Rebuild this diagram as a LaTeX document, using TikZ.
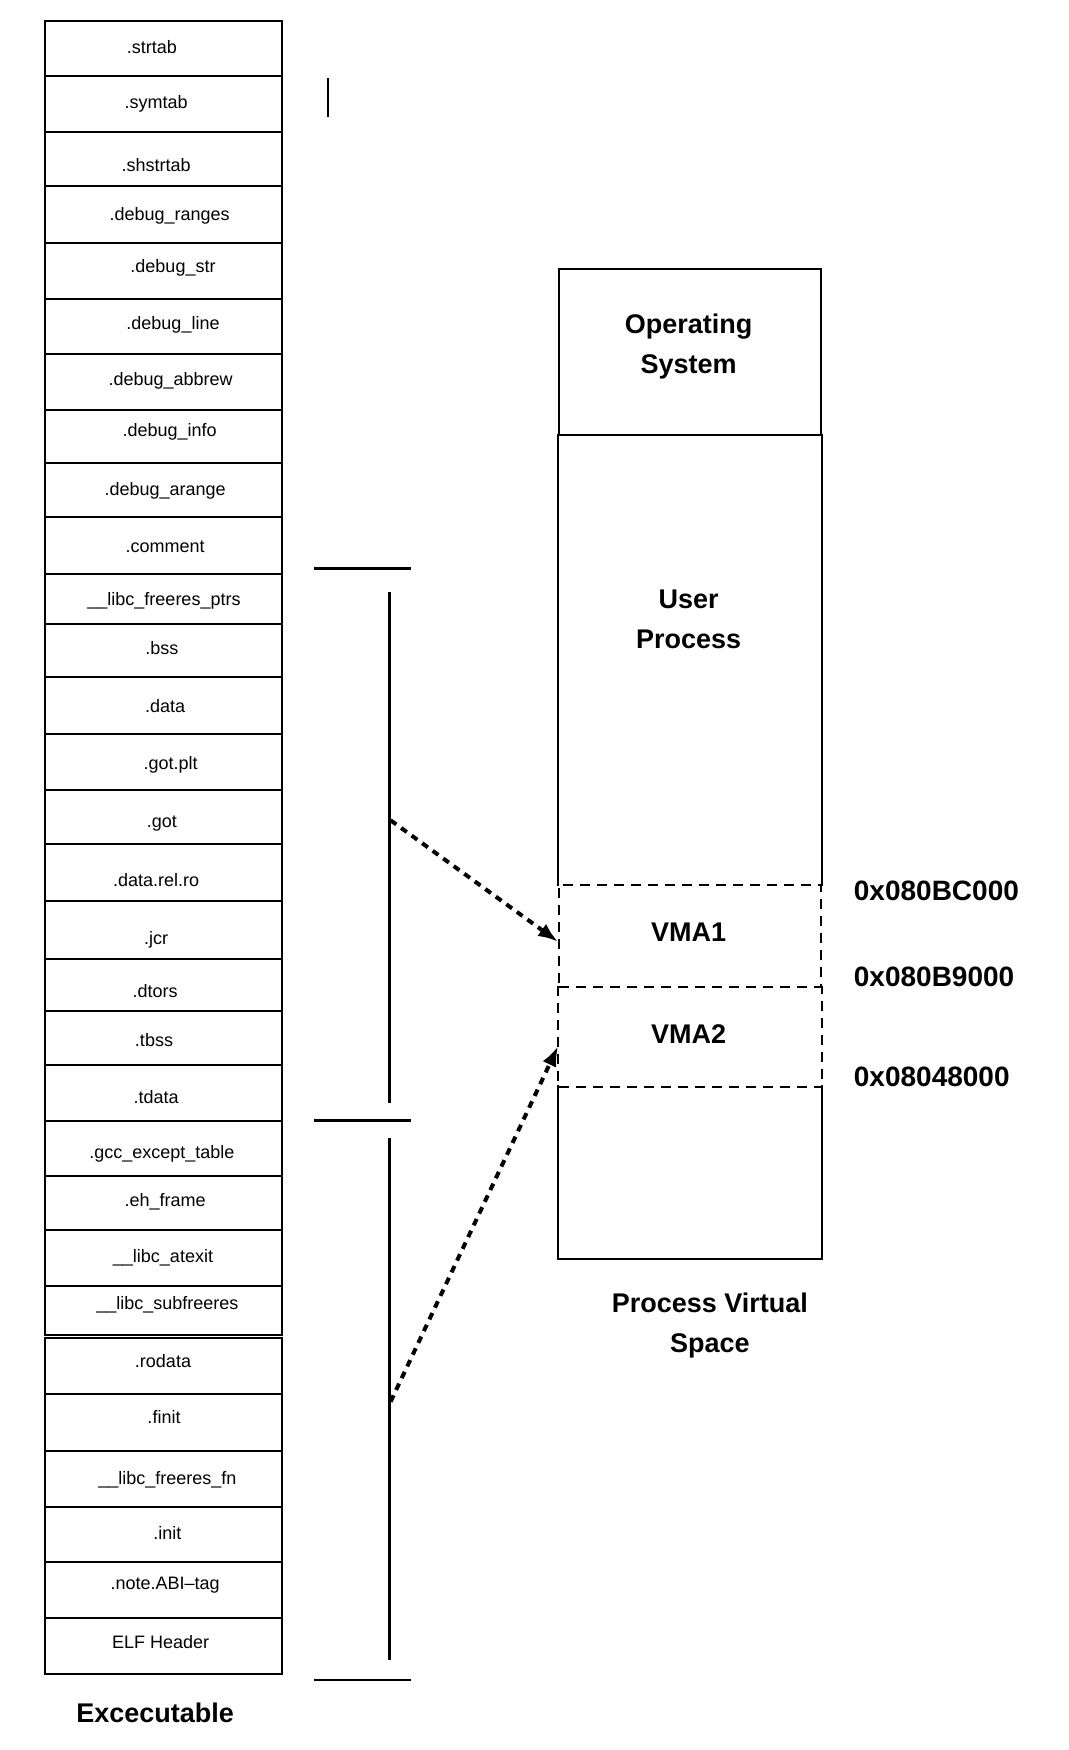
\documentclass[tikz,border=0pt]{standalone}
\usepackage{fontspec}
\setmainfont{Liberation Sans}
\usetikzlibrary{positioning,arrows.meta}
\tikzset{
  secbox/.style={draw,line width=2pt},
  seclabel/.style={font=\fontsize{18}{20}\selectfont,anchor=base,inner sep=0pt},
  biglabel/.style={font=\bfseries\fontsize{27}{40}\selectfont,align=center,inner sep=0pt},
  addr/.style={font=\bfseries\fontsize{28}{30}\selectfont,anchor=west,inner sep=0pt},
  region/.style={draw,line width=2pt,minimum width=262.3pt,inner sep=0pt},
  vmaregion/.style={region,dash pattern=on 10pt off 7pt},
  bracket/.style={line width=2.2pt},
  maparrow/.style={-{Latex[length=20pt,width=15pt]},line width=4pt,dash pattern=on 7pt off 6pt},
}
\begin{document}
\begin{tikzpicture}[x=1pt,y=-1pt]
  \useasboundingbox (0,0) rectangle (1068,1750);
  \foreach \ya/\yb/\tx/\ty/\txt [count=\i] in {
      21.2/75.9/151.8/48/.strtab,
      75.9/131.7/156.2/102.7/.symtab,
      131.7/186.4/156.2/165.2/.shstrtab,
      186.4/243.3/169.6/214.3/.debug\_ranges,
      243.3/299.1/173/266.7/.debug\_str,
      299.1/353.8/173/323.6/.debug\_line,
      353.8/409.6/170.7/379.4/.debug\_abbrew,
      409.6/463.1/169.6/430.8/.debug\_info,
      463.1/516.7/165.2/489.9/.debug\_arange,
      516.7/573.6/165.2/546.8/.comment,
      573.6/623.8/164/599.3/\_\_libc\_freeres\_ptrs,
      623.8/677.4/161.8/648.4/.bss,
      677.4/734.3/165.2/706.4/.data,
      734.3/790.1/170.7/763.3/.got.plt,
      790.1/843.7/161.8/821.4/.got,
      843.7/900.6/156.2/880.5/.data.rel.ro,
      900.6/958.6/156.2/938.6/.jcr,
      958.6/1011.1/155.1/991/.dtors,
      1011.1/1064.7/154/1040.1/.tbss,
      1064.7/1120.5/156.2/1097/.tdata,
      1120.5/1176.3/161.8/1152.8/.gcc\_except\_table,
      1176.3/1229.8/165.2/1200.8/.eh\_frame,
      1229.8/1285.6/163/1256.6/\_\_libc\_atexit,
      1285.6/1334.7/167.4/1303.5/\_\_libc\_subfreeres,
      1338.1/1393.9/163/1361.5/.rodata,
      1393.9/1450.8/164/1417.3/.finit,
      1450.8/1506.6/167.4/1478.7/\_\_libc\_freeres\_fn,
      1506.6/1562.4/167.4/1533.4/.init,
      1562.4/1618.2/165.2/1583.6/.note.ABI–tag,
      1618.2/1674/160.7/1642.8/ELF Header} {
    \draw[secbox] (45,\ya) rectangle (282,\yb);
    \node[seclabel] (sec\i) at (\tx,\ty+6) {\txt};
  }
  \node[biglabel] (exe) at (155.1,1713) {Excecutable};

  \draw[bracket] (328,78) -- (328,117);
  \draw[bracket] (313.6,568.5) -- (410.7,568.5);
  \draw[bracket] (313.6,1120.5) -- (410.7,1120.5);
  \draw[bracket] (313.6,1680) -- (410.7,1680);
  \draw[bracket] (389.5,591.5) -- (389.5,1102.6);
  \draw[bracket] (389.5,1138.3) -- (389.5,1660);
  \coordinate (dataTap) at (390.6,820.3);
  \coordinate (codeTap) at (390.6,1401.7);

  \node[region,minimum height=166.2pt] (os) at (690.2,352.1) {};
  \node[region,draw=none,minimum height=449.8pt] (user) at (690.2,660.1) {};
  \draw[bracket] (user.south west) -- (user.north west) (user.north east) -- (user.south east);
  \node[vmaregion,minimum height=101.5pt] (vma1) at (690.2,935.75) {};
  \node[region,draw=none,minimum height=99.4pt] (vma2) at (690.2,1036.2) {};
  \draw[line width=2pt,dash pattern=on 10pt off 7pt] (vma2.north west) -- (vma2.south west) -- (vma2.south east) -- (vma2.north east);
  \node[region,draw=none,minimum height=171.8pt] (rest) at (690.2,1171.8) {};
  \draw[bracket] (rest.north west) -- (rest.south west) -- (rest.south east) -- (rest.north east);

  \node[biglabel] (oslabel) at (688.6,347) {Operating\\System};
  \node[biglabel] (userlabel) at (688.6,619.4) {User\\Process};
  \node[biglabel] (vma1label) at (688.6,931.9) {VMA1};
  \node[biglabel] (vma2label) at (688.6,1034.5) {VMA2};
  \node[biglabel] (pvs) at (709.8,1325.8) {Process Virtual\\Space};

  \node[addr] (addrtop) at (853.7,890.6) {0x080BC000};
  \node[addr] (addrmid) at (853.7,976.5) {0x080B9000};
  \node[addr] (addrlow) at (853.7,1077) {0x08048000};

  \coordinate (vma1in) at ([yshift=-6pt]vma1.west);
  \coordinate (vma2in) at ([yshift=-10pt]vma2.west);
  \draw[maparrow] (dataTap) -- (vma1in);
  \draw[maparrow] (codeTap) -- (vma2in);
\end{tikzpicture}
\end{document}
